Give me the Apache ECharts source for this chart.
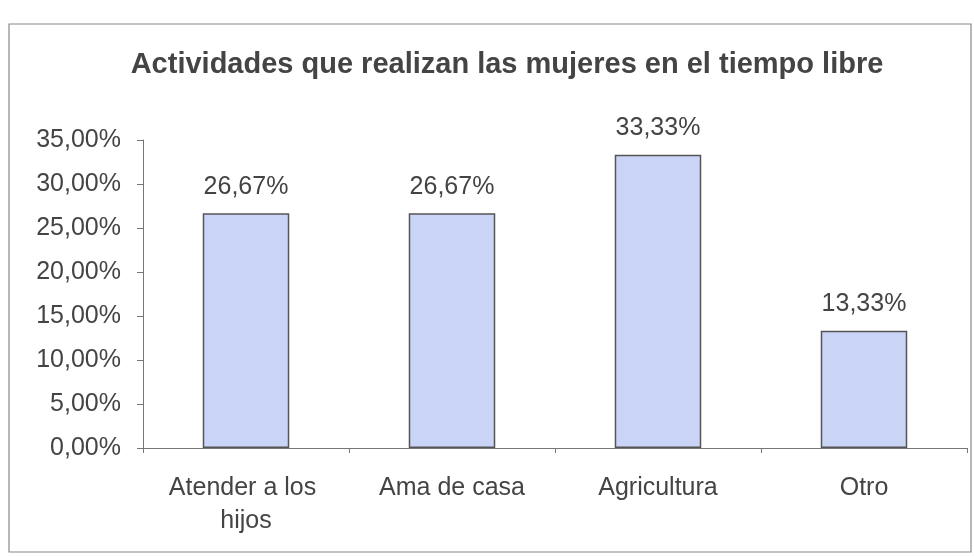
<!DOCTYPE html>
<html>
<head>
<meta charset="utf-8">
<script src="https://cdn.jsdelivr.net/npm/echarts@6/dist/echarts.min.js"></script>
<style>
  html, body { margin: 0; padding: 0; background: #fff; }
  #chart { width: 974px; height: 557px; }
</style>
</head>
<body>
<div id="chart"></div>
<script>
// datos del gráfico
var categorias = ['Atender a los hijos', 'Ama de casa', 'Agricultura', 'Otro'];
var porcentajes = [26.67, 26.67, 33.33, 13.33];
var ejeMin = 0, ejeMax = 35, ejePaso = 5;

function fmt(v) {
  return Number(v).toFixed(2).replace('.', ',') + '%';
}

var myChart = echarts.init(document.getElementById('chart'));

var option = {
  backgroundColor: '#fff',
  textStyle: { fontFamily: 'Liberation Sans, Arial, sans-serif' },
  title: {
    text: 'Actividades que realizan las mujeres en el tiempo libre',
    left: 502,
    textAlign: 'center',
    top: 45,
    textStyle: { fontSize: 29, fontWeight: 'bold', color: '#444' }
  },
  graphic: [{
    type: 'rect',
    shape: { x: 9, y: 24, width: 962, height: 528 },
    style: { fill: 'none', stroke: '#888', lineWidth: 1.2 }
  }],
  grid: { left: 143, right: 7, top: 140, bottom: 109 },
  xAxis: {
    type: 'category',
    data: categorias,
    axisLine: { lineStyle: { color: '#777', width: 1 } },
    axisTick: { show: true, length: 5, lineStyle: { color: '#777' } },
    axisLabel: {
      interval: 0,
      fontSize: 25, color: '#444', margin: 24,
      width: 180, overflow: 'break', lineHeight: 33
    }
  },
  yAxis: {
    type: 'value',
    min: ejeMin, max: ejeMax, interval: ejePaso,
    axisLine: { show: true, lineStyle: { color: '#777', width: 1 } },
    axisTick: { show: true, length: 6, lineStyle: { color: '#777' } },
    splitLine: { show: false },
    axisLabel: { fontSize: 25, color: '#444', margin: 22, formatter: fmt }
  },
  series: [{
    type: 'bar',
    data: porcentajes,
    barWidth: '42%',
    itemStyle: { color: '#cad4f6', borderColor: '#555', borderWidth: 1.5 },
    label: {
      show: true, position: 'top', distance: 14,
      fontSize: 25, color: '#444', formatter: function (p) { return fmt(p.value); }
    }
  }]
};

myChart.setOption(option);
</script>
</body>
</html>
